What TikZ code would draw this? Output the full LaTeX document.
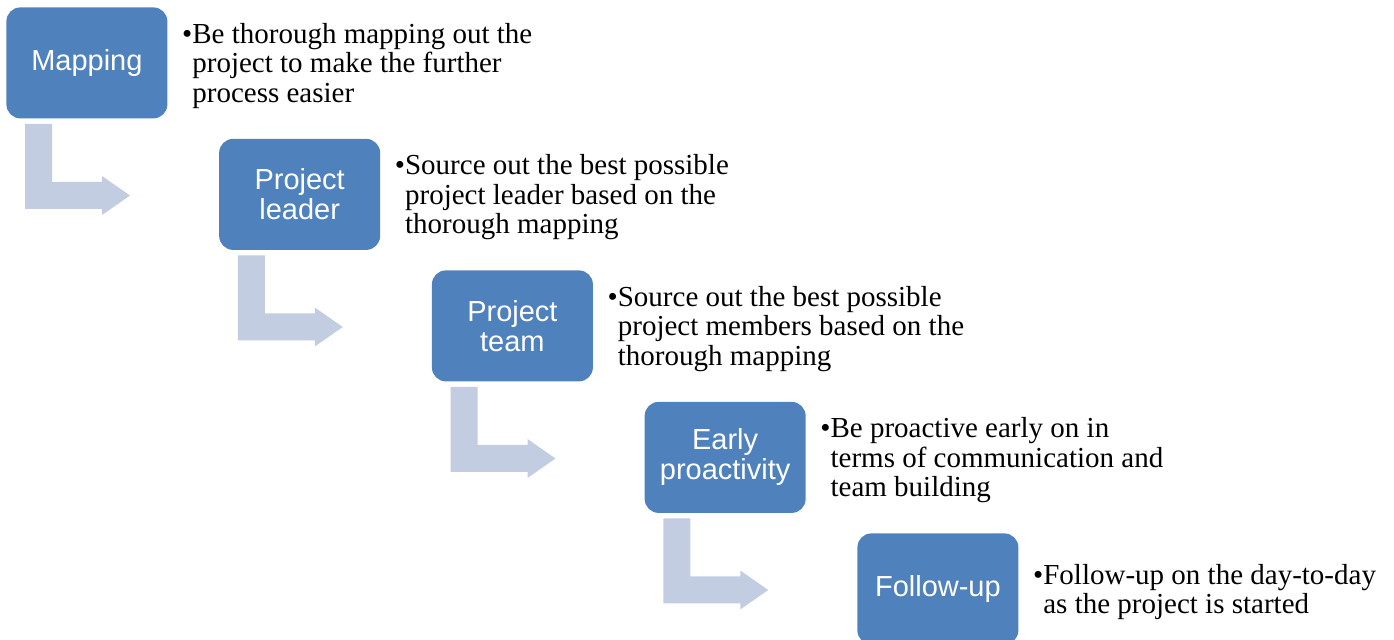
\documentclass[tikz,border=0pt]{standalone}
\usepackage{fontspec}
\setmainfont{Liberation Serif}
\setsansfont{Liberation Sans}
\usetikzlibrary{calc}
\definecolor{boxblue}{HTML}{4F81BD}
\definecolor{arrowblue}{HTML}{C3CDE2}
\tikzset{
  stepbox/.style={fill=boxblue, draw=none, rounded corners=7pt, anchor=north west,
    minimum width=80.5pt, minimum height=55.5pt, inner sep=0pt, align=center,
    text=white, font=\sffamily\fontsize{14.5}{15}\selectfont},
  desc/.style={anchor=west, inner sep=0pt, align=left,
    font=\rmfamily\fontsize{14.5}{14.75}\selectfont},
  bent/.style={fill=arrowblue, draw=none}
}
\newcommand{\bentarrow}[1]{%
  \fill[bent] ($(#1.north west)+(19,117)$) -- ($(#1.north west)+(46,117)$)
    -- ($(#1.north west)+(46,175)$) -- ($(#1.north west)+(96,175)$)
    -- ($(#1.north west)+(96,169)$) -- ($(#1.north west)+(124,188.5)$)
    -- ($(#1.north west)+(96,208)$) -- ($(#1.north west)+(96,202)$)
    -- ($(#1.north west)+(19,202)$) -- cycle;}
\newcommand{\desctext}[1]{\textbullet\begin{tabular}[t]{@{}l@{}}#1\end{tabular}}
\begin{document}
\begin{tikzpicture}[x=0.5pt, y=-0.5pt]
\useasboundingbox (0,0) rectangle (1394,640);
\node[stepbox] (b1) at (6,7) {Mapping\vphantom{p}};
\node[stepbox] (b2) at (218.75,138.5) {Project\\leader};
\node[stepbox] (b3) at (431.5,270) {Project\\team};
\node[stepbox] (b4) at (644.25,401.5) {Early\\proactivity};
\node[stepbox] (b5) at (857,533) {Follow-up};
\bentarrow{b1}
\bentarrow{b2}
\bentarrow{b3}
\bentarrow{b4}
\node[desc] (t1) at ([xshift=7pt,yshift=-2pt]b1.east) {\desctext{Be thorough mapping out the\\project to make the further\\process easier}};
\node[desc] (t2) at ([xshift=7pt,yshift=-2pt]b2.east) {\desctext{Source out the best possible\\project leader based on the\\thorough mapping}};
\node[desc] (t3) at ([xshift=7pt,yshift=-2pt]b3.east) {\desctext{Source out the best possible\\project members based on the\\thorough mapping}};
\node[desc] (t4) at ([xshift=7pt,yshift=-2pt]b4.east) {\desctext{Be proactive early on in\\terms of communication and\\team building}};
\node[desc] (t5) at ([xshift=7pt,yshift=-2pt]b5.east) {\desctext{Follow-up on the day-to-day\\as the project is started}};
\end{tikzpicture}
\end{document}
